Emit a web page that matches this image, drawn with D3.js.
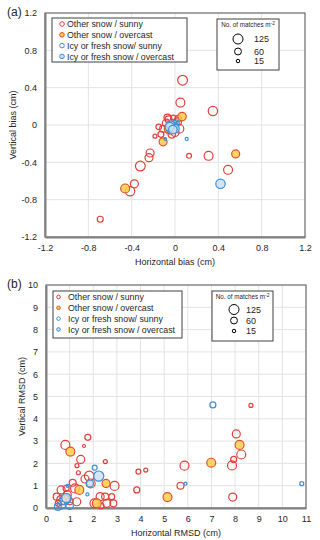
<!DOCTYPE html>
<html>
<head>
<meta charset="utf-8">
<script src="https://cdn.jsdelivr.net/npm/d3@7"></script>
<style>
  body { margin: 0; background: #fff; }
  text { font-family: "Liberation Sans", Arial, sans-serif; fill: #262626; }
</style>
</head>
<body>
<div id="chart"></div>
<script>
// series names shared by both panels
const seriesNames = ["Other snow / sunny", "Other snow / overcast", "Icy or fresh snow/ sunny", "Icy or fresh snow / overcast"];
const sizeLegendValues = [125, 60, 15];

// panel (a) : [horizontal bias, vertical bias, matches]
const biasSunnyOther = [
  [0.07, 0.48, 120], [0.05, 0.24, 100], [0.35, 0.15, 110], [-0.07, 0.08, 60], [-0.015, 0.08, 30],
  [-0.185, -0.12, 20], [0.13, -0.33, 30], [0.31, -0.33, 100], [0.49, -0.48, 100], [-0.23, -0.30, 80],
  [-0.24, -0.35, 80], [-0.32, -0.44, 120], [-0.375, -0.63, 80], [-0.415, -0.71, 110], [-0.69, -1.01, 45],
  [-0.08, 0.02, 80], [-0.05, -0.05, 100], [0.02, 0.03, 90], [0.04, -0.04, 100], [-0.11, -0.04, 60],
  [-0.03, -0.10, 70], [0.03, 0.07, 50], [-0.06, 0.06, 60], [0.0, -0.08, 80], [-0.13, -0.10, 45],
  [-0.15, -0.02, 40]
];
const biasOvercastOther = [
  [0.065, 0.09, 90], [-0.11, -0.18, 80], [0.56, -0.31, 80], [-0.46, -0.68, 100],
  [-0.06, -0.04, 90], [-0.01, -0.01, 70]
];
const biasSunnyIcy = [
  [0.108, -0.15, 12], [-0.09, -0.15, 10], [-0.02, -0.02, 80], [0.01, 0.02, 50], [-0.05, 0.0, 60],
  [-0.04, -0.05, 70], [0.0, -0.01, 60]
];
const biasOvercastIcy = [
  [0.42, -0.63, 110], [-0.03, -0.03, 110], [0.0, -0.04, 90], [-0.04, 0.0, 80],
  [-0.05, -0.02, 100], [-0.02, -0.05, 90]
];
const biasTicks = [-1.2, -0.8, -0.4, 0, 0.4, 0.8, 1.2];

// panel (b) : [horizontal RMSD, vertical RMSD, matches]
const rmsdSunnyOther = [
  [8.67, 4.6, 20], [8.05, 3.32, 80], [8.26, 2.4, 100], [7.94, 2.18, 45], [7.87, 1.91, 100],
  [5.86, 1.9, 100], [5.69, 1.0, 60], [7.9, 0.49, 80], [1.77, 3.17, 45], [1.61, 2.78, 11],
  [0.82, 2.83, 100], [1.47, 2.18, 80], [2.51, 2.08, 20], [1.31, 1.9, 20], [1.37, 1.58, 20],
  [1.83, 1.43, 120], [1.65, 1.3, 80], [1.89, 1.1, 100], [2.9, 0.99, 100], [3.84, 0.81, 45],
  [3.91, 1.63, 30], [4.22, 1.7, 20], [1.23, 0.88, 100], [1.13, 1.13, 60], [0.64, 0.81, 80],
  [0.85, 0.88, 45], [0.45, 0.51, 60], [0.66, 0.36, 120], [1.3, 0.28, 80], [0.52, 0.21, 45],
  [2.05, 0.21, 100], [2.29, 0.51, 80], [2.5, 0.51, 60], [2.78, 0.51, 45], [2.57, 0.21, 80],
  [2.85, 0.21, 60], [2.33, 0.09, 45], [1.0, 0.3, 60], [0.9, 0.6, 80]
];
const rmsdOvercastOther = [
  [8.19, 2.83, 100], [6.99, 2.03, 100], [5.14, 0.49, 100], [1.03, 2.53, 100],
  [2.54, 1.1, 80], [1.41, 0.81, 100], [2.15, 0.21, 100], [0.88, 0.43, 100]
];
const rmsdSunnyIcy = [
  [7.06, 4.62, 45], [5.9, 1.09, 12], [10.82, 1.09, 20], [2.06, 1.81, 30], [0.92, 0.99, 12],
  [1.75, 0.61, 12], [0.8, 0.36, 120], [0.66, 0.13, 80], [0.5, 0.05, 60], [1.0, 0.1, 70]
];
const rmsdOvercastIcy = [
  [2.23, 1.43, 130], [1.86, 1.1, 60], [0.85, 0.45, 100]
];
const rmsdTicks = d3.range(0, 12);
const rmsdYTicks = d3.range(0, 11);

const styles = [
  {stroke: "#e0403a", fill: "none", opacity: 1},
  {stroke: "#e0502c", fill: "#ffcc4a", opacity: 0.85},
  {stroke: "#3d8fd6", fill: "none", opacity: 1},
  {stroke: "#3d8fd6", fill: "#c9e0f4", opacity: 0.8}
];

const svg = d3.select("#chart").append("svg")
  .attr("width", 320).attr("height", 540);

const r = d3.scaleSqrt().domain([0, 125]).range([0, 5]);

const drawPanel = (opt) => {
  const x = d3.scaleLinear().domain(opt.xDomain).range([opt.left, opt.right]);
  const y = d3.scaleLinear().domain(opt.yDomain).range([opt.bottom, opt.top]);
  const g = svg.append("g");

  // grid
  g.selectAll(".vg").data(opt.xTicks).enter().append("line")
    .attr("x1", d => x(d)).attr("x2", d => x(d))
    .attr("y1", opt.top).attr("y2", opt.bottom)
    .attr("stroke", "#e3e3e3").attr("stroke-width", 1);
  g.selectAll(".hg").data(opt.yTicks).enter().append("line")
    .attr("y1", d => y(d)).attr("y2", d => y(d))
    .attr("x1", opt.left).attr("x2", opt.right)
    .attr("stroke", "#e3e3e3").attr("stroke-width", 1);

  // frame
  g.append("rect")
    .attr("x", opt.left).attr("y", opt.top)
    .attr("width", opt.right - opt.left).attr("height", opt.bottom - opt.top)
    .attr("fill", "none").attr("stroke", "#595959").attr("stroke-width", 1);

  // axes
  const xAxis = d3.axisBottom(x).tickValues(opt.xTicks).tickSize(0).tickPadding(8).tickFormat(opt.fmt);
  const yAxis = d3.axisLeft(y).tickValues(opt.yTicks).tickSize(0).tickPadding(8).tickFormat(opt.fmt);
  const gx = g.append("g").attr("transform", `translate(0,${opt.bottom})`).call(xAxis);
  const gy = g.append("g").attr("transform", `translate(${opt.left},0)`).call(yAxis);
  [gx, gy].forEach(a => {
    a.select(".domain").attr("stroke", "#808080").attr("stroke-width", 2);
    a.selectAll("text").attr("font-size", 9).attr("fill", "#262626")
      .style("font-family", "'Liberation Sans', Arial, sans-serif");
  });

  g.append("text")
    .attr("x", (opt.left + opt.right) / 2).attr("y", opt.bottom + 28)
    .attr("text-anchor", "middle").attr("font-size", 9).text(opt.xTitle);
  g.append("text")
    .attr("transform", `translate(${opt.yTitleX},${(opt.top + opt.bottom) / 2}) rotate(-90)`)
    .attr("text-anchor", "middle").attr("font-size", 9).text(opt.yTitle);
  g.append("text")
    .attr("x", 7).attr("y", opt.top + 3).attr("font-size", 12).text(opt.label);

  // points
  opt.series.forEach((data, i) => {
    const s = styles[i];
    g.selectAll(".p" + i).data(data).enter().append("circle")
      .attr("cx", d => x(d[0])).attr("cy", d => y(d[1])).attr("r", d => r(d[2]))
      .attr("fill", s.fill).attr("fill-opacity", s.opacity)
      .attr("stroke", s.stroke).attr("stroke-width", 1.2);
  });

  // series legend
  const L = opt.legend;
  g.append("rect").attr("x", L.x).attr("y", L.y).attr("width", L.w).attr("height", L.h)
    .attr("fill", "#fff").attr("stroke", "#404040").attr("stroke-width", 1);
  seriesNames.forEach((name, i) => {
    const s = styles[i];
    const cy = L.y + 6 + i * 10.8;
    g.append("circle").attr("cx", L.x + L.mx).attr("cy", cy).attr("r", L.mr)
      .attr("fill", s.fill === "none" ? "#fff" : s.fill).attr("stroke", s.stroke).attr("stroke-width", 1);
    g.append("text").attr("x", L.x + L.tx).attr("y", cy + 3.2)
      .attr("font-size", 8.8).text(name);
  });

  // size legend
  const S = opt.sizeLegend;
  g.append("rect").attr("x", S.x).attr("y", S.y).attr("width", S.w).attr("height", S.h)
    .attr("fill", "#fff").attr("stroke", "#404040").attr("stroke-width", 1);
  const title = g.append("text").attr("x", S.x + S.w / 2).attr("y", S.y + 8)
    .attr("text-anchor", "middle").attr("font-size", 6.3);
  title.append("tspan").text("No. of matches m");
  title.append("tspan").attr("dy", -2.5).attr("font-size", 4.8).text("-2");
  sizeLegendValues.forEach((v, i) => {
    const cy = S.y + S.cy[i];
    g.append("circle").attr("cx", S.x + S.cx).attr("cy", cy).attr("r", r(v))
      .attr("fill", "#fff").attr("stroke", "#000").attr("stroke-width", 1);
    g.append("text").attr("x", S.x + S.lx).attr("y", cy + 3.3)
      .attr("font-size", 9).text(v);
  });
};

drawPanel({
  left: 45, right: 305, top: 13, bottom: 237,
  xDomain: [-1.2, 1.2], yDomain: [-1.2, 1.2],
  xTicks: biasTicks, yTicks: biasTicks,
  fmt: d => d === 0 ? "0" : d.toFixed(1),
  xTitle: "Horizontal bias (cm)", yTitle: "Vertical bias (cm)", yTitleX: 16,
  label: "(a)",
  series: [biasSunnyOther, biasOvercastOther, biasSunnyIcy, biasOvercastIcy],
  legend: {x: 52, y: 18, w: 135, h: 44, mx: 10, mr: 2.3, tx: 15},
  sizeLegend: {x: 217, y: 19, w: 62, h: 51, cx: 21, cy: [20, 32.5, 42], lx: 37}
});

drawPanel({
  left: 46, right: 306, top: 285, bottom: 508,
  xDomain: [0, 11], yDomain: [0, 10],
  xTicks: rmsdTicks, yTicks: rmsdYTicks,
  fmt: d => d,
  xTitle: "Horizontal RMSD (cm)", yTitle: "Vertical RMSD (cm)", yTitleX: 25,
  label: "(b)",
  series: [rmsdSunnyOther, rmsdOvercastOther, rmsdSunnyIcy, rmsdOvercastIcy],
  legend: {x: 53, y: 291, w: 129, h: 47, mx: 5.5, mr: 1.8, tx: 15},
  sizeLegend: {x: 212, y: 291, w: 61, h: 50, cx: 22, cy: [18.5, 29.5, 40], lx: 34}
});
</script>
</body>
</html>
